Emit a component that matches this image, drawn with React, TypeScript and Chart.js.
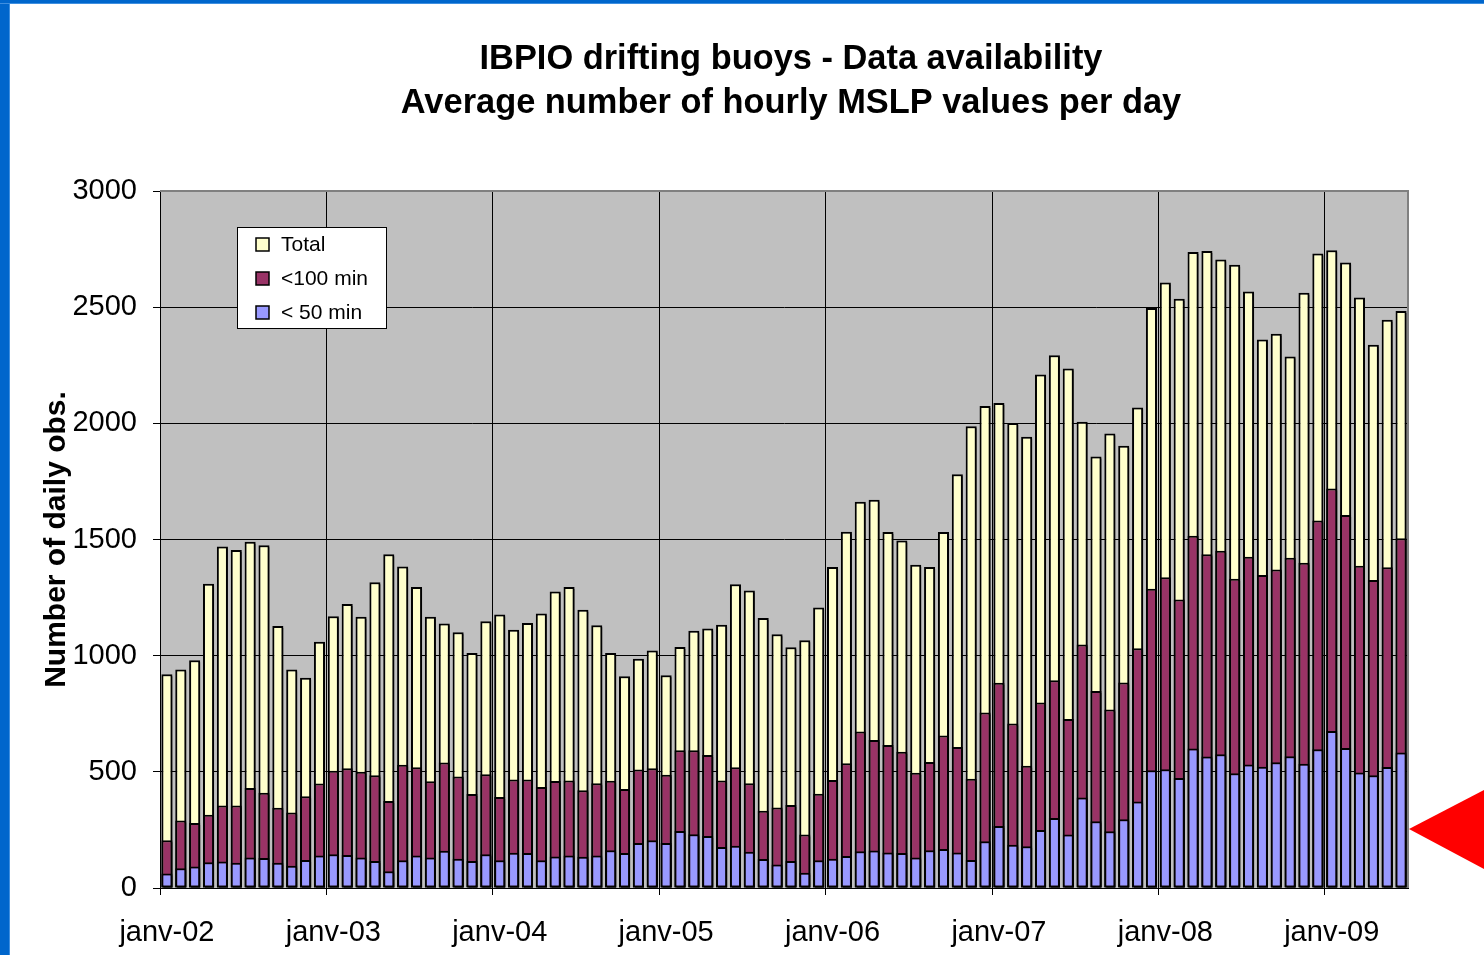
import React, { useEffect, useRef } from 'react';
import { Chart, registerables } from 'chart.js';

Chart.register(...registerables);

// ---------- data ----------
const years = ['02', '03', '04', '05', '06', '07', '08', '09'];
const monthNames = ['janv', 'févr', 'mars', 'avr', 'mai', 'juin', 'juil', 'août', 'sept', 'oct', 'nov', 'déc'];
const monthsInLastYear = 6;

const categories: string[] = [];
years.forEach((y, yi) => {
  const n = yi === years.length - 1 ? monthsInLastYear : 12;
  for (let m = 0; m < n; m++) categories.push(`${monthNames[m]}-${y}`);
});

const xTickLabels = ['janv-02', 'janv-03', 'janv-04', 'janv-05', 'janv-06', 'janv-07', 'janv-08', 'janv-09'];

const titleLines = ['IBPIO drifting buoys - Data availability', 'Average number of hourly MSLP values per day'];
const yAxisTitle = 'Number of daily obs.';
const seriesNames = ['Total', '<100 min', '< 50 min'];
const seriesColors = ['#FFFFCC', '#993366', '#9999FF'];

const total = [
  920, 940, 980, 1310, 1470, 1455, 1490, 1475, 1128, 940, 905, 1060,
  1170, 1222, 1167, 1316, 1436, 1384, 1296, 1167, 1138, 1101, 1011, 1148,
  1177, 1112, 1141, 1181, 1276, 1296, 1198, 1131, 1011, 911, 987, 1022,
  916, 1037, 1107, 1117, 1133, 1307, 1281, 1162, 1092, 1036, 1066, 1207,
  1382, 1533, 1662, 1671, 1532, 1496, 1391, 1382, 1532, 1781, 1987, 2075,
  2087, 2001, 1942, 2210, 2293, 2236, 2007, 1857, 1956, 1903, 2068, 2496,
  2606, 2536, 2737, 2742, 2705, 2683, 2567, 2361, 2386, 2288, 2562, 2731,
  2745, 2692, 2542, 2338, 2446, 2483,
];

const lt100 = [
  205, 290, 280, 315, 355, 355, 430, 410, 345, 325, 395, 450,
  505, 515, 500, 485, 375, 530, 520, 460, 540, 480, 405, 490,
  392, 467, 467, 435, 461, 463, 421, 451, 462, 426, 510, 515,
  487, 593, 593, 572, 463, 520, 451, 332, 347, 357, 230, 406,
  465, 537, 674, 637, 616, 586, 496, 542, 656, 607, 470, 755,
  883, 708, 526, 798, 894, 727, 1048, 848, 768, 884, 1032, 1288,
  1337, 1242, 1516, 1436, 1452, 1331, 1426, 1347, 1371, 1421, 1400, 1582,
  1720, 1605, 1387, 1326, 1381, 1505,
];

const lt50 = [
  62, 85, 93, 111, 114, 109, 131, 129, 109, 96, 121, 140,
  145, 142, 131, 116, 72, 119, 140, 131, 160, 126, 116, 145,
  119, 152, 151, 119, 136, 140, 134, 140, 162, 151, 194, 205,
  194, 245, 231, 224, 176, 182, 156, 125, 101, 116, 66, 119,
  126, 138, 158, 161, 153, 151, 131, 162, 168, 153, 120, 201,
  267, 186, 180, 250, 301, 230, 390, 287, 244, 296, 372, 507,
  511, 473, 600, 566, 576, 494, 532, 522, 541, 567, 535, 597,
  676, 603, 497, 485, 521, 583,
];

const FONT = "'Liberation Sans', Arial, Helvetica, sans-serif";

export default function App() {
  const ref = useRef<HTMLCanvasElement>(null);

  useEffect(() => {
    document.body.style.margin = '0';
    const canvas = ref.current;
    if (!canvas) return;

    const decor = {
      id: 'decor',
      beforeDraw(chart: any) {
        const { ctx, chartArea: a } = chart;
        ctx.save();
        ctx.fillStyle = '#FFFFFF';
        ctx.fillRect(0, 0, chart.width, chart.height);
        ctx.fillStyle = '#C0C0C0';
        ctx.fillRect(a.left, a.top, a.right - a.left, a.bottom - a.top);
        ctx.restore();
      },
      beforeDatasetsDraw(chart: any) {
        const ctx = chart.ctx;
        ctx.save();
        ctx.shadowColor = 'rgba(0,0,0,0.5)';
        ctx.shadowOffsetX = 2;
        ctx.shadowOffsetY = 2;
        ctx.shadowBlur = 0;
      },
      afterDatasetsDraw(chart: any) {
        chart.ctx.restore();
      },
      afterDraw(chart: any) {
        const { ctx, chartArea: a } = chart;
        ctx.save();
        // plot frame (top & right)
        ctx.strokeStyle = '#808080';
        ctx.lineWidth = 2;
        ctx.beginPath();
        ctx.moveTo(a.left, a.top);
        ctx.lineTo(a.right, a.top);
        ctx.lineTo(a.right, a.bottom);
        ctx.stroke();

        // title
        ctx.fillStyle = '#000';
        ctx.textAlign = 'center';
        ctx.textBaseline = 'alphabetic';
        ctx.font = `bold 34.4px ${FONT}`;
        ctx.fillText(titleLines[0], 791, 69);
        ctx.fillText(titleLines[1], 791, 113);

        // legend box
        const lx = a.left + 77;
        const ly = a.top + 36;
        ctx.fillStyle = '#FFFFFF';
        ctx.fillRect(lx, ly, 149, 101);
        ctx.strokeStyle = '#000';
        ctx.lineWidth = 1;
        ctx.strokeRect(lx + 0.5, ly + 0.5, 149, 101);
        ctx.font = `21px ${FONT}`;
        ctx.textAlign = 'left';
        seriesNames.forEach((name, i) => {
          const base = ly + 24 + i * 34;
          ctx.fillStyle = seriesColors[i];
          ctx.fillRect(lx + 19, base - 13, 13, 13);
          ctx.strokeStyle = '#000';
          ctx.lineWidth = 1.5;
          ctx.strokeRect(lx + 19, base - 13, 13, 13);
          ctx.fillStyle = '#000';
          ctx.fillText(name, lx + 44, base);
        });

        // red arrow marker on the right
        ctx.fillStyle = '#FF0000';
        ctx.beginPath();
        ctx.moveTo(1409, 829);
        ctx.lineTo(1484, 790);
        ctx.lineTo(1484, 869);
        ctx.closePath();
        ctx.fill();
        ctx.restore();
      },
    };

    const common = {
      borderColor: '#000000',
      borderWidth: 2,
      borderSkipped: false,
      grouped: false,
      barPercentage: 0.8,
      categoryPercentage: 1.0,
    };

    const yearGrid = (c: any) => (c.index % 12 === 0 ? '#000000' : 'rgba(0,0,0,0)');

    const chart = new Chart(canvas, {
      type: 'bar',
      data: {
        labels: categories,
        datasets: [
          { label: seriesNames[0], data: total, backgroundColor: seriesColors[0], order: 3, ...common },
          { label: seriesNames[1], data: lt100, backgroundColor: seriesColors[1], order: 2, ...common },
          { label: seriesNames[2], data: lt50, backgroundColor: seriesColors[2], order: 1, ...common },
        ] as any,
      },
      options: {
        responsive: false,
        animation: false,
        devicePixelRatio: 1,
        layout: { padding: { left: 0, right: 76, top: 191, bottom: 0 } },
        plugins: {
          legend: { display: false },
          title: { display: false },
          tooltip: { enabled: false },
        },
        scales: {
          x: {
            type: 'category',
            offset: true,
            grid: {
              offset: true,
              color: yearGrid,
              tickColor: yearGrid,
              lineWidth: 1,
              tickLength: 7,
              drawTicks: true,
            },
            border: { color: '#000000', width: 1 },
            ticks: {
              autoSkip: false,
              maxRotation: 0,
              minRotation: 0,
              padding: 21,
              color: '#000000',
              font: { family: FONT, size: 29 },
              callback: (_v: any, i: number) => (i % 12 === 0 ? xTickLabels[i / 12] : ''),
            },
            afterFit: (s: any) => {
              s.height = 67;
            },
          },
          y: {
            min: 0,
            max: 3000,
            grid: { color: '#000000', lineWidth: 1, tickLength: 7, tickColor: '#000000' },
            border: { color: '#000000', width: 1 },
            ticks: {
              stepSize: 500,
              padding: 16,
              color: '#000000',
              font: { family: FONT, size: 29 },
              callback: (v: any) => String(v),
            },
            title: {
              display: true,
              text: yAxisTitle,
              color: '#000000',
              font: { family: FONT, size: 30, weight: 'bold' },
              padding: { top: 39, bottom: 0 },
            },
            afterFit: (s: any) => {
              s.width = 160;
            },
          },
        },
      } as any,
      plugins: [decor],
    });

    return () => chart.destroy();
  }, []);

  return (
    <div style={{ position: 'relative', width: 1484, height: 955, overflow: 'hidden', background: '#fff' }}>
      <canvas ref={ref} width={1484} height={955} style={{ display: 'block', width: 1484, height: 955 }} />
      <div style={{ position: 'absolute', left: 0, top: 0, width: 10, height: 955, background: '#0066CC', borderRight: '1px solid #3F8FE0', boxSizing: 'border-box' }} />
      <div style={{ position: 'absolute', left: 0, top: 0, width: 1484, height: 4, background: '#0066CC', borderBottom: '1px solid #3F8FE0', boxSizing: 'border-box' }} />
    </div>
  );
}
